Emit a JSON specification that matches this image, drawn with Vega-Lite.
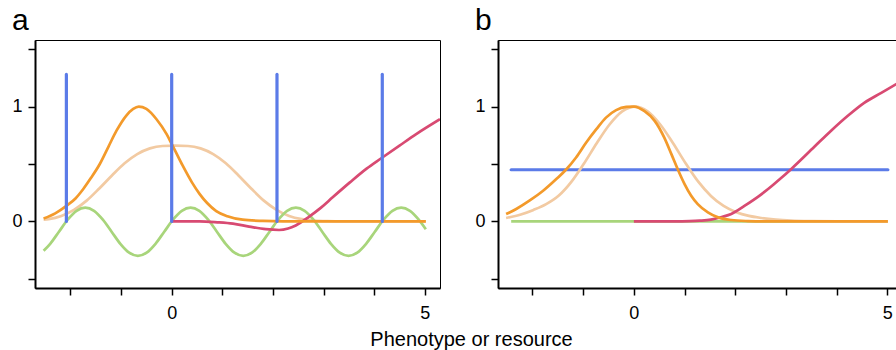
{
  "$schema": "https://vega.github.io/schema/vega-lite/v6.json",
  "background": "white",
  "padding": {"left": 11, "top": 5, "right": 0, "bottom": 0},
  "spacing": 33,
  "config": {
    "view": {"stroke": "#000", "strokeWidth": 1},
    "axis": {"domainColor": "#000", "domainWidth": 2, "tickColor": "#000", "tickWidth": 1.5, "tickSize": 7, "labelFont": "Liberation Sans", "labelFontSize": 18, "labelColor": "#000", "grid": false, "title": null, "labelFlush": false, "labelOverlap": false}
  },
  "title": {"text": "Phenotype or resource", "orient": "bottom", "anchor": "middle", "font": "Liberation Sans", "fontSize": 20, "fontWeight": "normal", "color": "#000", "offset": 7, "dx": 17},
  "datasets": {
    "aLines": [
      {"s": "peach", "x": -2.53, "y": 0.015}, {"s": "peach", "x": -2.43, "y": 0.02}, {"s": "peach", "x": -2.18, "y": 0.048}, {"s": "peach", "x": -1.93, "y": 0.101}, {"s": "peach", "x": -1.68, "y": 0.181}, {"s": "peach", "x": -1.43, "y": 0.287}, {"s": "peach", "x": -1.18, "y": 0.4}, {"s": "peach", "x": -0.93, "y": 0.506}, {"s": "peach", "x": -0.68, "y": 0.586}, {"s": "peach", "x": -0.43, "y": 0.636}, {"s": "peach", "x": -0.18, "y": 0.657}, {"s": "peach", "x": 0.07, "y": 0.66}, {"s": "peach", "x": 0.32, "y": 0.657}, {"s": "peach", "x": 0.57, "y": 0.636}, {"s": "peach", "x": 0.82, "y": 0.586}, {"s": "peach", "x": 1.07, "y": 0.506}, {"s": "peach", "x": 1.32, "y": 0.4}, {"s": "peach", "x": 1.57, "y": 0.287}, {"s": "peach", "x": 1.82, "y": 0.181}, {"s": "peach", "x": 2.07, "y": 0.101}, {"s": "peach", "x": 2.32, "y": 0.048}, {"s": "peach", "x": 2.57, "y": 0.02}, {"s": "peach", "x": 2.82, "y": 0.0066}, {"s": "peach", "x": 3.07, "y": 0.0018}, {"s": "peach", "x": 3.4, "y": 0}, {"s": "peach", "x": 5.02, "y": 0},
      {"s": "green", "x": -2.53, "y": -0.256}, {"s": "green", "x": -2.4, "y": -0.195}, {"s": "green", "x": -2.227, "y": -0.09}, {"s": "green", "x": -2.054, "y": 0.015}, {"s": "green", "x": -1.88, "y": 0.092}, {"s": "green", "x": -1.707, "y": 0.12}, {"s": "green", "x": -1.534, "y": 0.092}, {"s": "green", "x": -1.36, "y": 0.015}, {"s": "green", "x": -1.187, "y": -0.09}, {"s": "green", "x": -1.014, "y": -0.195}, {"s": "green", "x": -0.84, "y": -0.272}, {"s": "green", "x": -0.667, "y": -0.3}, {"s": "green", "x": -0.494, "y": -0.272}, {"s": "green", "x": -0.32, "y": -0.195}, {"s": "green", "x": -0.147, "y": -0.09}, {"s": "green", "x": 0.026, "y": 0.015}, {"s": "green", "x": 0.2, "y": 0.092}, {"s": "green", "x": 0.373, "y": 0.12}, {"s": "green", "x": 0.546, "y": 0.092}, {"s": "green", "x": 0.72, "y": 0.015}, {"s": "green", "x": 0.893, "y": -0.09}, {"s": "green", "x": 1.066, "y": -0.195}, {"s": "green", "x": 1.24, "y": -0.272}, {"s": "green", "x": 1.413, "y": -0.3}, {"s": "green", "x": 1.586, "y": -0.272}, {"s": "green", "x": 1.76, "y": -0.195}, {"s": "green", "x": 1.933, "y": -0.09}, {"s": "green", "x": 2.106, "y": 0.015}, {"s": "green", "x": 2.28, "y": 0.092}, {"s": "green", "x": 2.453, "y": 0.12}, {"s": "green", "x": 2.626, "y": 0.092}, {"s": "green", "x": 2.8, "y": 0.015}, {"s": "green", "x": 2.973, "y": -0.09}, {"s": "green", "x": 3.146, "y": -0.195}, {"s": "green", "x": 3.32, "y": -0.272}, {"s": "green", "x": 3.493, "y": -0.3}, {"s": "green", "x": 3.666, "y": -0.272}, {"s": "green", "x": 3.84, "y": -0.195}, {"s": "green", "x": 4.013, "y": -0.09}, {"s": "green", "x": 4.186, "y": 0.015}, {"s": "green", "x": 4.36, "y": 0.092}, {"s": "green", "x": 4.533, "y": 0.12}, {"s": "green", "x": 4.706, "y": 0.092}, {"s": "green", "x": 4.88, "y": 0.015}, {"s": "green", "x": 5.02, "y": -0.069},
      {"s": "red", "x": 0, "y": 0}, {"s": "red", "x": 0.55, "y": 0}, {"s": "red", "x": 0.9, "y": -0.008}, {"s": "red", "x": 1.21, "y": -0.02}, {"s": "red", "x": 1.53, "y": -0.045}, {"s": "red", "x": 1.86, "y": -0.068}, {"s": "red", "x": 2.12, "y": -0.075}, {"s": "red", "x": 2.3, "y": -0.062}, {"s": "red", "x": 2.45, "y": -0.035}, {"s": "red", "x": 2.71, "y": 0.04}, {"s": "red", "x": 2.95, "y": 0.12}, {"s": "red", "x": 3.18, "y": 0.21}, {"s": "red", "x": 3.52, "y": 0.34}, {"s": "red", "x": 3.85, "y": 0.46}, {"s": "red", "x": 4.14, "y": 0.55}, {"s": "red", "x": 4.5, "y": 0.66}, {"s": "red", "x": 4.83, "y": 0.76}, {"s": "red", "x": 5.3, "y": 0.89},
      {"s": "orange", "x": -2.53, "y": 0.025}, {"s": "orange", "x": -2.3, "y": 0.07}, {"s": "orange", "x": -2.08, "y": 0.135}, {"s": "orange", "x": -1.9, "y": 0.2}, {"s": "orange", "x": -1.75, "y": 0.28}, {"s": "orange", "x": -1.6, "y": 0.375}, {"s": "orange", "x": -1.42, "y": 0.5}, {"s": "orange", "x": -1.25, "y": 0.65}, {"s": "orange", "x": -1.09, "y": 0.79}, {"s": "orange", "x": -0.9, "y": 0.92}, {"s": "orange", "x": -0.76, "y": 0.98}, {"s": "orange", "x": -0.65, "y": 1.0}, {"s": "orange", "x": -0.5, "y": 0.98}, {"s": "orange", "x": -0.3, "y": 0.89}, {"s": "orange", "x": -0.1, "y": 0.76}, {"s": "orange", "x": 0, "y": 0.675}, {"s": "orange", "x": 0.2, "y": 0.5}, {"s": "orange", "x": 0.4, "y": 0.34}, {"s": "orange", "x": 0.55, "y": 0.24}, {"s": "orange", "x": 0.7, "y": 0.16}, {"s": "orange", "x": 0.88, "y": 0.09}, {"s": "orange", "x": 1.1, "y": 0.045}, {"s": "orange", "x": 1.4, "y": 0.015}, {"s": "orange", "x": 1.8, "y": 0.004}, {"s": "orange", "x": 2.2, "y": 0}, {"s": "orange", "x": 5.02, "y": 0}
    ],
    "aBlue": [
      {"x": -2.08, "y": 0, "y2": 1.28}, {"x": 0, "y": 0, "y2": 1.28}, {"x": 2.08, "y": 0, "y2": 1.28}, {"x": 4.16, "y": 0, "y2": 1.28}
    ],
    "bBlue": [
      {"x": -2.42, "x2": 5.01, "y": 0.45}
    ],
    "bLines": [
      {"s": "green", "x": -2.42, "y": 0}, {"s": "green", "x": 5.01, "y": 0},
      {"s": "peach", "x": -2.52, "y": 0.03}, {"s": "peach", "x": -2.23, "y": 0.06}, {"s": "peach", "x": -1.98, "y": 0.1}, {"s": "peach", "x": -1.73, "y": 0.15}, {"s": "peach", "x": -1.48, "y": 0.225}, {"s": "peach", "x": -1.23, "y": 0.346}, {"s": "peach", "x": -0.98, "y": 0.507}, {"s": "peach", "x": -0.73, "y": 0.683}, {"s": "peach", "x": -0.48, "y": 0.844}, {"s": "peach", "x": -0.23, "y": 0.958}, {"s": "peach", "x": 0.02, "y": 1.0}, {"s": "peach", "x": 0.27, "y": 0.958}, {"s": "peach", "x": 0.52, "y": 0.844}, {"s": "peach", "x": 0.77, "y": 0.683}, {"s": "peach", "x": 1.02, "y": 0.507}, {"s": "peach", "x": 1.27, "y": 0.346}, {"s": "peach", "x": 1.52, "y": 0.222}, {"s": "peach", "x": 1.77, "y": 0.135}, {"s": "peach", "x": 2.02, "y": 0.08}, {"s": "peach", "x": 2.27, "y": 0.048}, {"s": "peach", "x": 2.52, "y": 0.03}, {"s": "peach", "x": 2.8, "y": 0.016}, {"s": "peach", "x": 3.1, "y": 0.007}, {"s": "peach", "x": 3.5, "y": 0.002}, {"s": "peach", "x": 4.0, "y": 0}, {"s": "peach", "x": 5.01, "y": 0},
      {"s": "red", "x": 0, "y": 0}, {"s": "red", "x": 0.8, "y": 0}, {"s": "red", "x": 1.1, "y": 0.002}, {"s": "red", "x": 1.3, "y": 0.006}, {"s": "red", "x": 1.52, "y": 0.015}, {"s": "red", "x": 1.75, "y": 0.04}, {"s": "red", "x": 1.92, "y": 0.065}, {"s": "red", "x": 2.18, "y": 0.135}, {"s": "red", "x": 2.48, "y": 0.225}, {"s": "red", "x": 2.75, "y": 0.32}, {"s": "red", "x": 2.91, "y": 0.38}, {"s": "red", "x": 3.1, "y": 0.455}, {"s": "red", "x": 3.56, "y": 0.65}, {"s": "red", "x": 3.89, "y": 0.79}, {"s": "red", "x": 4.22, "y": 0.92}, {"s": "red", "x": 4.55, "y": 1.035}, {"s": "red", "x": 4.88, "y": 1.12}, {"s": "red", "x": 5.19, "y": 1.2},
      {"s": "orange", "x": -2.52, "y": 0.064}, {"s": "orange", "x": -2.32, "y": 0.108}, {"s": "orange", "x": -2.06, "y": 0.18}, {"s": "orange", "x": -1.79, "y": 0.267}, {"s": "orange", "x": -1.53, "y": 0.369}, {"s": "orange", "x": -1.34, "y": 0.45}, {"s": "orange", "x": -1.14, "y": 0.557}, {"s": "orange", "x": -0.94, "y": 0.687}, {"s": "orange", "x": -0.74, "y": 0.803}, {"s": "orange", "x": -0.55, "y": 0.904}, {"s": "orange", "x": -0.35, "y": 0.969}, {"s": "orange", "x": -0.15, "y": 0.997}, {"s": "orange", "x": 0, "y": 1.0}, {"s": "orange", "x": 0.21, "y": 0.96}, {"s": "orange", "x": 0.41, "y": 0.876}, {"s": "orange", "x": 0.6, "y": 0.73}, {"s": "orange", "x": 0.74, "y": 0.586}, {"s": "orange", "x": 0.87, "y": 0.45}, {"s": "orange", "x": 1.0, "y": 0.325}, {"s": "orange", "x": 1.13, "y": 0.223}, {"s": "orange", "x": 1.26, "y": 0.15}, {"s": "orange", "x": 1.46, "y": 0.078}, {"s": "orange", "x": 1.66, "y": 0.035}, {"s": "orange", "x": 1.92, "y": 0.012}, {"s": "orange", "x": 2.25, "y": 0.003}, {"s": "orange", "x": 2.6, "y": 0}, {"s": "orange", "x": 5.01, "y": 0}
    ]
  },
  "hconcat": [
    {
      "width": 405,
      "height": 248,
      "title": {"text": "a", "anchor": "start", "font": "Liberation Sans", "fontSize": 30, "fontWeight": "normal", "color": "#000", "baseline": "alphabetic", "offset": -20},
      "layer": [
        {
          "mark": {"type": "rule", "color": "#9a9a9a", "strokeWidth": 1},
          "encoding": {"x": {"datum": 0, "type": "quantitative", "scale": {"domain": [-2.7, 5.3], "nice": false, "zero": false}, "axis": {"values": [-2, -1, 0, 1, 2, 3, 4, 5], "labelExpr": "datum.value == 0 ? '0' : datum.value == 5 ? '5' : ''", "labelPadding": 9}}}
        },
        {
          "mark": {"type": "rule", "color": "#9a9a9a", "strokeWidth": 1},
          "encoding": {"y": {"datum": 0, "type": "quantitative", "scale": {"domain": [-0.58, 1.58], "nice": false, "zero": false}, "axis": {"values": [-0.5, 0, 0.5, 1, 1.5], "labelExpr": "datum.value == 0 ? '0' : datum.value == 1 ? '1' : ''", "labelPadding": 6}}}
        },
        {
          "data": {"name": "aLines"},
          "mark": {"type": "line", "strokeWidth": 2.7, "interpolate": "monotone", "clip": true},
          "encoding": {
            "x": {"field": "x", "type": "quantitative"},
            "y": {"field": "y", "type": "quantitative"},
            "color": {"field": "s", "type": "nominal", "scale": {"domain": ["peach", "green", "red", "orange"], "range": ["#f2caa2", "#a8d57b", "#d84a72", "#f39a2b"]}, "legend": null}
          }
        },
        {
          "data": {"name": "aBlue"},
          "mark": {"type": "rule", "color": "#5b7be8", "strokeWidth": 3.2, "strokeCap": "round"},
          "encoding": {
            "x": {"field": "x", "type": "quantitative"},
            "y": {"field": "y", "type": "quantitative"},
            "y2": {"field": "y2"}
          }
        }
      ]
    },
    {
      "width": 399,
      "height": 248,
      "title": {"text": "b", "anchor": "start", "font": "Liberation Sans", "fontSize": 30, "fontWeight": "normal", "color": "#000", "baseline": "alphabetic", "offset": -20},
      "layer": [
        {
          "mark": {"type": "rule", "color": "#9a9a9a", "strokeWidth": 1},
          "encoding": {"x": {"datum": 0, "type": "quantitative", "scale": {"domain": [-2.68, 5.19], "nice": false, "zero": false}, "axis": {"values": [-2, -1, 0, 1, 2, 3, 4, 5], "labelExpr": "datum.value == 0 ? '0' : datum.value == 5 ? '5' : ''", "labelPadding": 9}}}
        },
        {
          "mark": {"type": "rule", "color": "#9a9a9a", "strokeWidth": 1},
          "encoding": {"y": {"datum": 0, "type": "quantitative", "scale": {"domain": [-0.58, 1.58], "nice": false, "zero": false}, "axis": {"values": [-0.5, 0, 0.5, 1, 1.5], "labelExpr": "datum.value == 0 ? '0' : datum.value == 1 ? '1' : ''", "labelPadding": 6}}}
        },
        {
          "data": {"name": "bBlue"},
          "mark": {"type": "rule", "color": "#5b7be8", "strokeWidth": 3.2, "strokeCap": "round"},
          "encoding": {
            "x": {"field": "x", "type": "quantitative"},
            "x2": {"field": "x2"},
            "y": {"field": "y", "type": "quantitative"}
          }
        },
        {
          "data": {"name": "bLines"},
          "mark": {"type": "line", "strokeWidth": 2.7, "interpolate": "monotone", "clip": true},
          "encoding": {
            "x": {"field": "x", "type": "quantitative"},
            "y": {"field": "y", "type": "quantitative"},
            "color": {"field": "s", "type": "nominal", "scale": {"domain": ["green", "peach", "red", "orange"], "range": ["#7fba48", "#f2caa2", "#d84a72", "#f39a2b"]}, "legend": null}
          }
        }
      ]
    }
  ]
}
